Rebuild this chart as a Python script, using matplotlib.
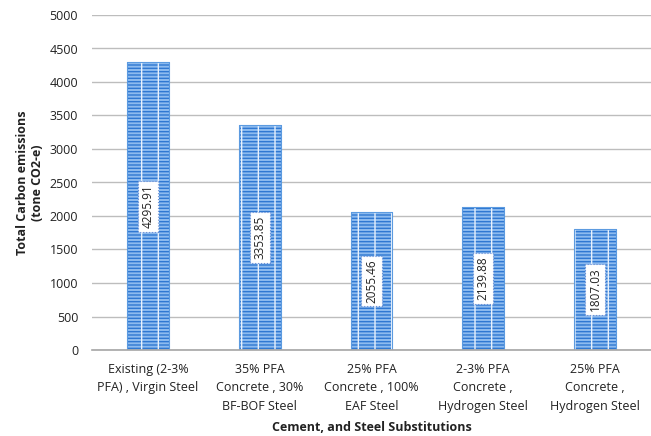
import numpy as np
import matplotlib.pyplot as plt

categories = [
    "Existing (2-3%\nPFA) , Virgin Steel",
    "35% PFA\nConcrete , 30%\nBF-BOF Steel",
    "25% PFA\nConcrete , 100%\nEAF Steel",
    "2-3% PFA\nConcrete ,\nHydrogen Steel",
    "25% PFA\nConcrete ,\nHydrogen Steel",
]
emissions = [4295.91, 3353.85, 2055.46, 2139.88, 1807.03]
yticks = [0, 500, 1000, 1500, 2000, 2500, 3000, 3500, 4000, 4500, 5000]

plt.rcParams['font.family'] = ['Open Sans', 'DejaVu Sans']
plt.rcParams['hatch.linewidth'] = 1.0

fig = plt.figure(figsize=(6.51, 4.36), dpi=100)
ax = fig.add_axes([92 / 651, 86 / 436, 559 / 651, 335 / 436])

x = np.arange(len(categories))
ax.bar(x, emissions, width=0.375, color='#8dbbef', edgecolor='#2f78d2',
       hatch='-----', linewidth=0.6, zorder=2)
# faint white vertical stripes in the bar fill
ax.bar(x, emissions, width=0.375, color='none', edgecolor='#e8f1fc',
       hatch='|', linewidth=0, zorder=2.1)
ax.bar(x, emissions, width=0.375, color='none', edgecolor='#5c9be0',
       linewidth=0.8, zorder=2.2)

for xi, v in zip(x, emissions):
    ax.text(xi, v / 2, f"{v:.2f}", rotation=90, ha='center', va='center',
            fontsize=8.5, color='#222222', zorder=3,
            bbox=dict(boxstyle='square,pad=0.3', facecolor='white',
                      edgecolor='#6b8fd6', linestyle=':', linewidth=0.8))

ax.set_ylim(0, 5000)
ax.set_xlim(-0.5, len(categories) - 0.5)
ax.set_yticks(yticks)
ax.set_xticks(x)
ax.set_xticklabels(categories, fontsize=9, color='#222222', linespacing=1.55)
ax.tick_params(axis='y', labelsize=9, colors='#222222', length=0, pad=10)
ax.tick_params(axis='x', length=0, pad=9)
ax.yaxis.grid(True, color='#bdbdbd', linewidth=1.0, zorder=0)
ax.set_axisbelow(True)
for s in ['top', 'right', 'left']:
    ax.spines[s].set_visible(False)
ax.spines['bottom'].set_color('#a6a6a6')
ax.spines['bottom'].set_linewidth(1.2)

ax.set_ylabel("Total Carbon emissions\n(tone CO2-e)", fontsize=9,
              fontweight='bold', color='#222222', labelpad=4)
ax.set_xlabel("Cement, and Steel Substitutions", fontsize=9,
              fontweight='bold', color='#222222', labelpad=6)

fig.savefig('out.png', dpi=100)
